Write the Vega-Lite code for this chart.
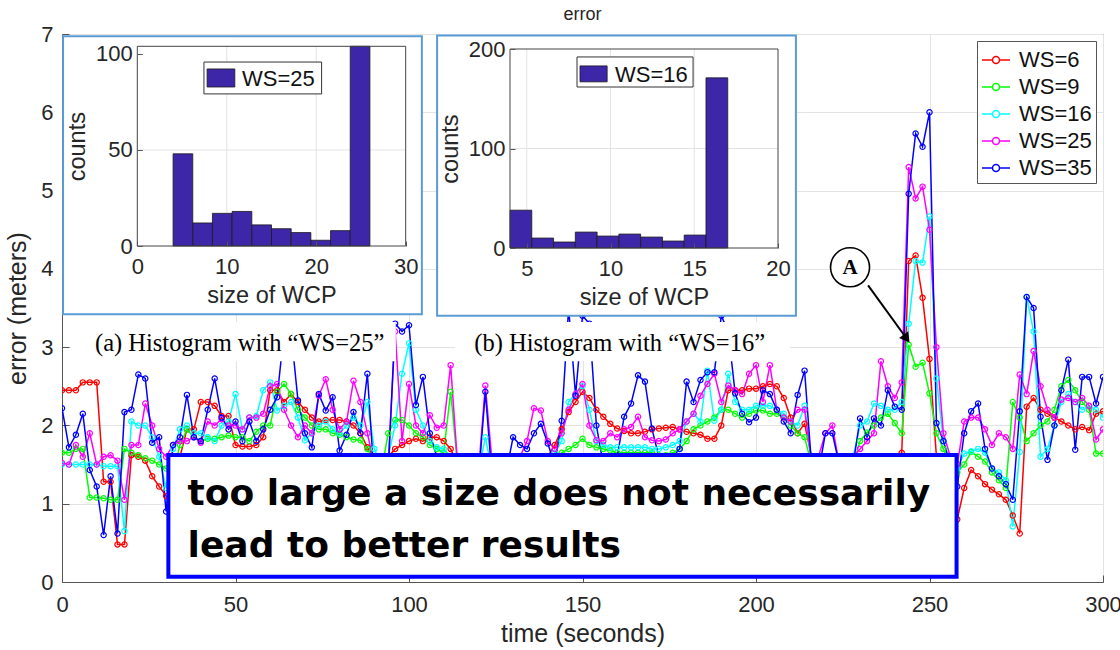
{
"$schema": "https://vega.github.io/schema/vega-lite/v6.json",
"width": 1041, "height": 548,
"autosize": "none",
"padding": {"left": 62, "top": 34, "right": 17, "bottom": 68},
"background": "white",
"title": {"text": "error", "fontSize": 18, "fontWeight": "normal", "font": "Liberation Sans", "color": "#262626", "offset": -1},
"config": {
  "view": {"stroke": "#555", "strokeWidth": 1},
  "axis": {"labelFont": "Liberation Sans", "titleFont": "Liberation Sans", "labelColor": "#262626", "titleColor": "#262626", "titleFontWeight": "normal", "domainColor": "#555", "tickColor": "#555", "gridColor": "#e3e3e3", "labelFontSize": 22, "titleFontSize": 25, "labelFlush": false, "labelOverlap": false}
},
"datasets": {
  "main": [
    {"t":0,"ws6":2.45,"ws9":1.65,"ws16":1.5,"ws25":1.52,"ws35":2.22},
    {"t":2,"ws6":2.45,"ws9":1.65,"ws16":1.5,"ws25":1.5,"ws35":1.72},
    {"t":4,"ws6":2.45,"ws9":1.7,"ws16":1.5,"ws25":1.75,"ws35":1.88},
    {"t":6,"ws6":2.55,"ws9":1.7,"ws16":1.5,"ws25":1.6,"ws35":2.15},
    {"t":8,"ws6":2.55,"ws9":1.08,"ws16":1.5,"ws25":1.9,"ws35":1.43},
    {"t":10,"ws6":2.55,"ws9":1.08,"ws16":1.5,"ws25":1.5,"ws35":1.22},
    {"t":12,"ws6":1.28,"ws9":1.07,"ws16":1.48,"ws25":1.6,"ws35":0.6},
    {"t":14,"ws6":1.28,"ws9":1.05,"ws16":1.48,"ws25":1.62,"ws35":1.35},
    {"t":16,"ws6":0.48,"ws9":1.05,"ws16":1.48,"ws25":1.55,"ws35":0.62},
    {"t":18,"ws6":0.48,"ws9":1.7,"ws16":0.65,"ws25":1.05,"ws35":2.17},
    {"t":20,"ws6":1.62,"ws9":1.65,"ws16":2.05,"ws25":1.75,"ws35":2.2},
    {"t":22,"ws6":1.6,"ws9":1.62,"ws16":2.0,"ws25":1.75,"ws35":2.65},
    {"t":24,"ws6":1.55,"ws9":1.58,"ws16":2.0,"ws25":2.28,"ws35":2.6},
    {"t":26,"ws6":1.35,"ws9":1.55,"ws16":1.85,"ws25":2.0,"ws35":1.78},
    {"t":28,"ws6":1.22,"ws9":1.5,"ws16":1.6,"ws25":1.7,"ws35":1.85},
    {"t":30,"ws6":1.1,"ws9":1.45,"ws16":1.2,"ws25":1.6,"ws35":0.9},
    {"t":32,"ws6":1.0,"ws9":1.4,"ws16":1.7,"ws25":1.75,"ws35":1.75},
    {"t":34,"ws6":1.6,"ws9":1.75,"ws16":1.95,"ws25":1.8,"ws35":1.85},
    {"t":36,"ws6":1.95,"ws9":1.95,"ws16":2.0,"ws25":1.8,"ws35":2.39},
    {"t":38,"ws6":1.95,"ws9":1.85,"ws16":1.9,"ws25":1.85,"ws35":1.85},
    {"t":40,"ws6":2.3,"ws9":1.8,"ws16":1.9,"ws25":1.78,"ws35":1.8},
    {"t":42,"ws6":2.3,"ws9":1.83,"ws16":1.85,"ws25":2.05,"ws35":2.2},
    {"t":44,"ws6":2.25,"ws9":1.83,"ws16":1.8,"ws25":2.0,"ws35":2.6},
    {"t":46,"ws6":2.12,"ws9":1.85,"ws16":2.0,"ws25":2.08,"ws35":2.1},
    {"t":48,"ws6":2.12,"ws9":1.87,"ws16":2.05,"ws25":2.0,"ws35":1.95},
    {"t":50,"ws6":1.75,"ws9":1.85,"ws16":2.4,"ws25":2.0,"ws35":2.05},
    {"t":52,"ws6":1.73,"ws9":1.85,"ws16":1.95,"ws25":1.95,"ws35":1.8},
    {"t":54,"ws6":1.73,"ws9":1.8,"ws16":2.1,"ws25":2.1,"ws35":2.05},
    {"t":56,"ws6":1.75,"ws9":1.92,"ws16":2.12,"ws25":2.1,"ws35":1.8},
    {"t":58,"ws6":1.85,"ws9":2.0,"ws16":2.45,"ws25":2.15,"ws35":1.95},
    {"t":60,"ws6":2.45,"ws9":2.0,"ws16":2.55,"ws25":2.5,"ws35":2.2},
    {"t":62,"ws6":2.45,"ws9":2.43,"ws16":2.19,"ws25":2.53,"ws35":2.36},
    {"t":64,"ws6":2.3,"ws9":2.53,"ws16":2.25,"ws25":2.2,"ws35":3.2},
    {"t":66,"ws6":2.4,"ws9":2.4,"ws16":2.3,"ws25":2.0,"ws35":3.2},
    {"t":68,"ws6":2.3,"ws9":2.2,"ws16":2.1,"ws25":1.85,"ws35":2.32},
    {"t":70,"ws6":2.2,"ws9":2.1,"ws16":1.81,"ws25":2.0,"ws35":1.9},
    {"t":72,"ws6":2.1,"ws9":2.0,"ws16":1.9,"ws25":1.9,"ws35":1.72},
    {"t":74,"ws6":2.05,"ws9":1.95,"ws16":2.0,"ws25":2.38,"ws35":2.4},
    {"t":76,"ws6":2.07,"ws9":1.95,"ws16":2.05,"ws25":2.59,"ws35":2.19},
    {"t":78,"ws6":2.07,"ws9":1.9,"ws16":1.95,"ws25":2.2,"ws35":2.36},
    {"t":80,"ws6":2.07,"ws9":1.88,"ws16":1.9,"ws25":1.95,"ws35":1.68},
    {"t":82,"ws6":2.05,"ws9":1.85,"ws16":2.0,"ws25":2.05,"ws35":1.88},
    {"t":84,"ws6":2.0,"ws9":1.82,"ws16":2.1,"ws25":2.57,"ws35":2.17},
    {"t":86,"ws6":1.9,"ws9":1.81,"ws16":2.0,"ws25":2.3,"ws35":1.9},
    {"t":88,"ws6":1.72,"ws9":1.7,"ws16":2.3,"ws25":1.9,"ws35":2.66},
    {"t":90,"ws6":1.6,"ws9":1.55,"ws16":1.7,"ws25":1.5,"ws35":1.3},
    {"t":92,"ws6":1.5,"ws9":1.4,"ws16":1.5,"ws25":1.4,"ws35":1.2},
    {"t":94,"ws6":1.6,"ws9":1.9,"ws16":1.6,"ws25":1.5,"ws35":1.4},
    {"t":96,"ws6":1.7,"ws9":2.07,"ws16":2.0,"ws25":3.2,"ws35":3.3},
    {"t":98,"ws6":1.75,"ws9":2.07,"ws16":2.66,"ws25":1.8,"ws35":3.2},
    {"t":100,"ws6":1.8,"ws9":2.0,"ws16":3.05,"ws25":2.53,"ws35":3.28},
    {"t":102,"ws6":1.83,"ws9":1.9,"ws16":2.2,"ws25":2.0,"ws35":2.26},
    {"t":104,"ws6":1.8,"ws9":1.85,"ws16":2.0,"ws25":1.9,"ws35":2.62},
    {"t":106,"ws6":1.85,"ws9":1.75,"ws16":1.8,"ws25":2.13,"ws35":1.9},
    {"t":108,"ws6":1.85,"ws9":1.7,"ws16":1.72,"ws25":1.97,"ws35":1.6},
    {"t":110,"ws6":1.8,"ws9":1.65,"ws16":1.7,"ws25":2.0,"ws35":1.5},
    {"t":112,"ws6":1.7,"ws9":2.43,"ws16":1.6,"ws25":2.77,"ws35":1.4},
    {"t":114,"ws6":1.5,"ws9":1.5,"ws16":1.4,"ws25":1.5,"ws35":1.3},
    {"t":116,"ws6":1.4,"ws9":1.4,"ws16":1.3,"ws25":1.4,"ws35":1.2},
    {"t":118,"ws6":1.3,"ws9":1.3,"ws16":1.3,"ws25":1.3,"ws35":1.2},
    {"t":120,"ws6":1.3,"ws9":1.3,"ws16":1.4,"ws25":1.4,"ws35":1.3},
    {"t":122,"ws6":1.35,"ws9":1.3,"ws16":1.85,"ws25":2.51,"ws35":2.43},
    {"t":124,"ws6":1.35,"ws9":1.3,"ws16":1.4,"ws25":1.5,"ws35":1.3},
    {"t":126,"ws6":1.3,"ws9":1.25,"ws16":1.3,"ws25":1.4,"ws35":1.2},
    {"t":128,"ws6":1.3,"ws9":1.25,"ws16":1.3,"ws25":1.45,"ws35":1.4},
    {"t":130,"ws6":1.35,"ws9":1.3,"ws16":1.4,"ws25":1.5,"ws35":1.85},
    {"t":132,"ws6":1.4,"ws9":1.35,"ws16":1.45,"ws25":1.6,"ws35":1.75},
    {"t":134,"ws6":1.45,"ws9":1.4,"ws16":1.5,"ws25":1.8,"ws35":1.7},
    {"t":136,"ws6":1.5,"ws9":1.45,"ws16":1.55,"ws25":2.22,"ws35":1.9},
    {"t":138,"ws6":1.55,"ws9":1.5,"ws16":1.6,"ws25":2.19,"ws35":2.02},
    {"t":140,"ws6":1.6,"ws9":1.55,"ws16":1.6,"ws25":1.8,"ws35":1.77},
    {"t":142,"ws6":1.75,"ws9":1.6,"ws16":1.65,"ws25":1.7,"ws35":1.5},
    {"t":144,"ws6":1.95,"ws9":1.65,"ws16":1.8,"ws25":1.9,"ws35":2.06},
    {"t":146,"ws6":2.17,"ws9":1.7,"ws16":2.3,"ws25":2.2,"ws35":3.5},
    {"t":148,"ws6":2.3,"ws9":1.75,"ws16":2.4,"ws25":2.4,"ws35":2.38},
    {"t":150,"ws6":2.43,"ws9":1.83,"ws16":2.5,"ws25":2.53,"ws35":3.4},
    {"t":152,"ws6":2.35,"ws9":1.75,"ws16":2.2,"ws25":2.0,"ws35":3.3},
    {"t":154,"ws6":2.2,"ws9":1.72,"ws16":1.8,"ws25":1.81,"ws35":2.0},
    {"t":156,"ws6":2.11,"ws9":1.7,"ws16":1.75,"ws25":1.8,"ws35":1.5},
    {"t":158,"ws6":2.02,"ws9":1.68,"ws16":1.72,"ws25":1.9,"ws35":1.4},
    {"t":160,"ws6":1.96,"ws9":1.65,"ws16":1.72,"ws25":1.85,"ws35":1.6},
    {"t":162,"ws6":1.93,"ws9":1.65,"ws16":1.72,"ws25":1.95,"ws35":2.11},
    {"t":164,"ws6":1.9,"ws9":1.65,"ws16":1.72,"ws25":1.98,"ws35":2.28},
    {"t":166,"ws6":1.9,"ws9":1.65,"ws16":1.72,"ws25":2.11,"ws35":2.64},
    {"t":168,"ws6":1.92,"ws9":1.65,"ws16":1.72,"ws25":1.85,"ws35":2.56},
    {"t":170,"ws6":1.95,"ws9":1.65,"ws16":1.7,"ws25":1.81,"ws35":1.96},
    {"t":172,"ws6":1.96,"ws9":1.62,"ws16":1.7,"ws25":1.8,"ws35":1.6},
    {"t":174,"ws6":1.97,"ws9":1.62,"ws16":1.72,"ws25":1.82,"ws35":1.5},
    {"t":176,"ws6":1.98,"ws9":1.65,"ws16":1.75,"ws25":1.9,"ws35":1.6},
    {"t":178,"ws6":1.95,"ws9":1.7,"ws16":1.8,"ws25":1.95,"ws35":1.7},
    {"t":180,"ws6":1.92,"ws9":1.8,"ws16":2.05,"ws25":2.05,"ws35":2.56},
    {"t":182,"ws6":1.9,"ws9":1.95,"ws16":2.15,"ws25":2.15,"ws35":2.3},
    {"t":184,"ws6":1.88,"ws9":2.0,"ws16":2.05,"ws25":2.38,"ws35":2.58},
    {"t":186,"ws6":1.83,"ws9":2.05,"ws16":2.7,"ws25":2.53,"ws35":2.68},
    {"t":188,"ws6":1.83,"ws9":2.1,"ws16":2.06,"ws25":2.66,"ws35":2.68},
    {"t":190,"ws6":2.0,"ws9":2.2,"ws16":2.2,"ws25":2.3,"ws35":3.4},
    {"t":192,"ws6":2.45,"ws9":2.2,"ws16":2.66,"ws25":2.51,"ws35":3.2},
    {"t":194,"ws6":2.45,"ws9":2.15,"ws16":2.3,"ws25":2.45,"ws35":2.41},
    {"t":196,"ws6":2.45,"ws9":2.1,"ws16":2.2,"ws25":2.4,"ws35":2.15},
    {"t":198,"ws6":2.47,"ws9":2.15,"ws16":2.2,"ws25":2.66,"ws35":2.04},
    {"t":200,"ws6":2.47,"ws9":2.19,"ws16":2.25,"ws25":2.77,"ws35":2.1},
    {"t":202,"ws6":2.5,"ws9":2.19,"ws16":2.25,"ws25":2.3,"ws35":2.45},
    {"t":204,"ws6":2.53,"ws9":2.15,"ws16":2.25,"ws25":2.77,"ws35":2.4},
    {"t":206,"ws6":2.5,"ws9":2.15,"ws16":2.2,"ws25":2.2,"ws35":2.2},
    {"t":208,"ws6":2.35,"ws9":2.1,"ws16":2.15,"ws25":2.1,"ws35":2.05},
    {"t":210,"ws6":2.1,"ws9":2.0,"ws16":2.05,"ws25":2.05,"ws35":1.9},
    {"t":212,"ws6":1.9,"ws9":1.9,"ws16":2.0,"ws25":2.2,"ws35":2.39},
    {"t":214,"ws6":2.02,"ws9":1.85,"ws16":2.25,"ws25":2.2,"ws35":2.7},
    {"t":216,"ws6":1.6,"ws9":1.5,"ws16":1.5,"ws25":1.55,"ws35":1.5},
    {"t":218,"ws6":1.4,"ws9":1.4,"ws16":1.4,"ws25":1.6,"ws35":1.4},
    {"t":220,"ws6":1.4,"ws9":1.4,"ws16":1.4,"ws25":1.9,"ws35":1.9},
    {"t":222,"ws6":1.4,"ws9":1.35,"ws16":1.4,"ws25":2.0,"ws35":1.9},
    {"t":224,"ws6":1.45,"ws9":1.4,"ws16":1.45,"ws25":1.5,"ws35":1.5},
    {"t":226,"ws6":1.45,"ws9":1.45,"ws16":1.5,"ws25":1.5,"ws35":1.45},
    {"t":228,"ws6":1.5,"ws9":1.5,"ws16":1.6,"ws25":1.6,"ws35":1.5},
    {"t":230,"ws6":1.5,"ws9":1.8,"ws16":2.0,"ws25":1.7,"ws35":2.09},
    {"t":232,"ws6":1.55,"ws9":1.91,"ws16":2.05,"ws25":1.8,"ws35":1.85},
    {"t":234,"ws6":1.55,"ws9":2.0,"ws16":2.28,"ws25":1.9,"ws35":2.09},
    {"t":236,"ws6":1.55,"ws9":2.1,"ws16":2.25,"ws25":2.82,"ws35":2.0},
    {"t":238,"ws6":1.55,"ws9":2.15,"ws16":2.2,"ws25":2.5,"ws35":2.45},
    {"t":240,"ws6":1.6,"ws9":2.03,"ws16":2.2,"ws25":2.35,"ws35":2.24},
    {"t":242,"ws6":1.65,"ws9":1.9,"ws16":2.3,"ws25":2.55,"ws35":2.2},
    {"t":244,"ws6":4.1,"ws9":3.03,"ws16":3.3,"ws25":5.3,"ws35":4.96},
    {"t":246,"ws6":4.17,"ws9":2.75,"ws16":4.1,"ws25":4.9,"ws35":5.73},
    {"t":248,"ws6":3.63,"ws9":2.8,"ws16":4.08,"ws25":5.05,"ws35":5.56},
    {"t":250,"ws6":2.85,"ws9":2.41,"ws16":4.67,"ws25":4.5,"ws35":6.0},
    {"t":252,"ws6":1.6,"ws9":1.9,"ws16":2.6,"ws25":3.0,"ws35":2.03},
    {"t":254,"ws6":1.5,"ws9":1.7,"ws16":1.8,"ws25":1.9,"ws35":1.8},
    {"t":256,"ws6":1.3,"ws9":1.5,"ws16":1.5,"ws25":1.6,"ws35":1.5},
    {"t":258,"ws6":0.8,"ws9":1.4,"ws16":1.45,"ws25":1.5,"ws35":1.22},
    {"t":260,"ws6":1.2,"ws9":1.5,"ws16":1.64,"ws25":2.05,"ws35":1.9},
    {"t":262,"ws6":1.43,"ws9":1.66,"ws16":1.67,"ws25":2.1,"ws35":2.18},
    {"t":264,"ws6":1.35,"ws9":1.6,"ws16":1.7,"ws25":2.1,"ws35":2.28},
    {"t":266,"ws6":1.25,"ws9":1.54,"ws16":1.65,"ws25":1.95,"ws35":1.7},
    {"t":268,"ws6":1.18,"ws9":1.4,"ws16":1.45,"ws25":1.75,"ws35":1.45},
    {"t":270,"ws6":1.12,"ws9":1.3,"ws16":1.4,"ws25":1.9,"ws35":1.35},
    {"t":272,"ws6":1.05,"ws9":1.2,"ws16":1.3,"ws25":1.85,"ws35":1.25},
    {"t":274,"ws6":0.85,"ws9":2.3,"ws16":0.71,"ws25":1.7,"ws35":1.05},
    {"t":276,"ws6":0.62,"ws9":2.1,"ws16":1.66,"ws25":2.65,"ws35":2.18},
    {"t":278,"ws6":2.24,"ws9":1.8,"ws16":3.64,"ws25":2.4,"ws35":3.64},
    {"t":280,"ws6":2.35,"ws9":1.9,"ws16":3.2,"ws25":2.95,"ws35":3.5},
    {"t":282,"ws6":2.2,"ws9":2.0,"ws16":1.6,"ws25":2.5,"ws35":2.11},
    {"t":284,"ws6":2.15,"ws9":2.05,"ws16":1.7,"ws25":2.2,"ws35":1.56},
    {"t":286,"ws6":2.1,"ws9":2.2,"ws16":2.0,"ws25":2.1,"ws35":2.0},
    {"t":288,"ws6":2.05,"ws9":2.5,"ws16":2.3,"ws25":2.33,"ws35":2.45},
    {"t":290,"ws6":2.0,"ws9":2.58,"ws16":2.4,"ws25":2.35,"ws35":2.84},
    {"t":292,"ws6":1.95,"ws9":2.45,"ws16":2.3,"ws25":2.3,"ws35":1.69},
    {"t":294,"ws6":1.98,"ws9":2.3,"ws16":2.2,"ws25":2.35,"ws35":2.62},
    {"t":296,"ws6":1.94,"ws9":2.2,"ws16":2.25,"ws25":2.25,"ws35":2.62},
    {"t":298,"ws6":2.15,"ws9":1.64,"ws16":2.2,"ws25":1.82,"ws35":2.28},
    {"t":300,"ws6":2.18,"ws9":1.64,"ws16":2.1,"ws25":1.95,"ws35":2.62}
  ],
  "hist1": [
    {"lo":4,"hi":6.2,"n":48},{"lo":6.2,"hi":8.4,"n":12},{"lo":8.4,"hi":10.6,"n":17},{"lo":10.6,"hi":12.8,"n":18},{"lo":12.8,"hi":15,"n":11},
    {"lo":15,"hi":17.2,"n":9},{"lo":17.2,"hi":19.4,"n":7},{"lo":19.4,"hi":21.6,"n":3},{"lo":21.6,"hi":23.8,"n":8},{"lo":23.8,"hi":26,"n":106}
  ],
  "hist2": [
    {"lo":4,"hi":5.3,"n":38},{"lo":5.3,"hi":6.6,"n":10},{"lo":6.6,"hi":7.9,"n":6},{"lo":7.9,"hi":9.2,"n":16},{"lo":9.2,"hi":10.5,"n":12},
    {"lo":10.5,"hi":11.8,"n":14},{"lo":11.8,"hi":13.1,"n":11},{"lo":13.1,"hi":14.4,"n":7},{"lo":14.4,"hi":15.7,"n":13},{"lo":15.7,"hi":17,"n":171}
  ]
},
"layer": [
  {
    "data": {"name": "main"},
    "transform": [{"fold": ["ws6", "ws9", "ws16", "ws25", "ws35"], "as": ["series", "err"]}],
    "mark": {"type": "line", "strokeWidth": 1.5, "clip": true, "point": {"filled": false, "size": 28, "strokeWidth": 1.2}},
    "encoding": {
      "x": {"field": "t", "type": "quantitative", "scale": {"domain": [0, 300], "nice": false, "zero": false},
            "axis": {"values": [0, 50, 100, 150, 200, 250, 300], "title": "time (seconds)", "grid": true, "tickSize": -7, "labelPadding": 19, "titlePadding": 6}},
      "y": {"field": "err", "type": "quantitative", "scale": {"domain": [0, 7], "nice": false, "zero": false},
            "axis": {"values": [0, 1, 2, 3, 4, 5, 6, 7], "title": "error (meters)", "grid": true, "tickSize": -7, "labelPadding": 16, "titlePadding": 10}},
      "color": {"field": "series", "type": "nominal",
                "scale": {"domain": ["ws6", "ws9", "ws16", "ws25", "ws35"], "range": ["#FF0000", "#00FF00", "#00FFFF", "#FF00FF", "#0000FF"]},
                "legend": {"title": null, "orient": "top-right", "offset": 7, "labelExpr": "'WS=' + slice(datum.label, 2)",
                           "symbolType": "M-1,0H-0.25M0.25,0H1M-0.25,0A0.25,0.25 0 1,1 0.25,0A0.25,0.25 0 1,1 -0.25,0",
                           "symbolSize": 784, "symbolStrokeWidth": 1.5, "symbolFillColor": "transparent",
                           "labelFontSize": 22, "labelFont": "Liberation Sans", "labelColor": "#111",
                           "fillColor": "white", "strokeColor": "#555", "padding": 4, "rowPadding": 1, "labelOffset": 8}}
    }
  },
  {
    "data": {"values": [{"x": 30.65, "x2": 257.8, "y": 0.068, "y2": 1.622}]},
    "mark": {"type": "rect", "fill": "white", "stroke": "#0000FF", "strokeWidth": 4},
    "encoding": {"x": {"field": "x", "type": "quantitative", "scale": {"domain": [0, 300], "nice": false, "zero": false}, "axis": null}, "x2": {"field": "x2"},
                 "y": {"field": "y", "type": "quantitative", "scale": {"domain": [0, 7], "nice": false, "zero": false}, "axis": null}, "y2": {"field": "y2"}}
  },
  {
    "data": {"values": [{"x": 36.2, "y": 0.983, "text": "too large a size does not necessarily"}, {"x": 36.2, "y": 0.323, "text": "lead to better results"}]},
    "mark": {"type": "text", "font": "DejaVu Sans", "fontWeight": "bold", "fontSize": 36, "align": "left", "baseline": "alphabetic", "color": "black"},
    "encoding": {"x": {"field": "x", "type": "quantitative", "scale": {"domain": [0, 300], "nice": false, "zero": false}, "axis": null},
                 "y": {"field": "y", "type": "quantitative", "scale": {"domain": [0, 7], "nice": false, "zero": false}, "axis": null}, "text": {"field": "text"}}
  },
  {
    "data": {"values": [{"x": 0.3, "x2": 103.7, "y": 3.42, "y2": 6.97}, {"x": 108.1, "x2": 211.5, "y": 3.40, "y2": 6.98}]},
    "mark": {"type": "rect", "fill": "white", "stroke": "#5B9BD5", "strokeWidth": 2},
    "encoding": {"x": {"field": "x", "type": "quantitative", "scale": {"domain": [0, 300], "nice": false, "zero": false}, "axis": null}, "x2": {"field": "x2"},
                 "y": {"field": "y", "type": "quantitative", "scale": {"domain": [0, 7], "nice": false, "zero": false}, "axis": null}, "y2": {"field": "y2"}}
  },
  {
    "data": {"values": [{"x": 2.5, "x2": 96.2, "y": 2.82, "y2": 3.32}, {"x": 113.3, "x2": 209.8, "y": 2.82, "y2": 3.32}]},
    "mark": {"type": "rect", "fill": "white"},
    "encoding": {"x": {"field": "x", "type": "quantitative", "scale": {"domain": [0, 300], "nice": false, "zero": false}, "axis": null}, "x2": {"field": "x2"},
                 "y": {"field": "y", "type": "quantitative", "scale": {"domain": [0, 7], "nice": false, "zero": false}, "axis": null}, "y2": {"field": "y2"}}
  },
  {
    "data": {"values": [{"x": 51.2, "y": 2.95, "text": "(a) Histogram with “WS=25”"}, {"x": 160.7, "y": 2.95, "text": "(b) Histogram with “WS=16”"}]},
    "mark": {"type": "text", "font": "Liberation Serif", "fontSize": 24.5, "align": "center", "baseline": "alphabetic", "color": "black"},
    "encoding": {"x": {"field": "x", "type": "quantitative", "scale": {"domain": [0, 300], "nice": false, "zero": false}, "axis": null},
                 "y": {"field": "y", "type": "quantitative", "scale": {"domain": [0, 7], "nice": false, "zero": false}, "axis": null}, "text": {"field": "text"}}
  },
  {
    "data": {"values": [{"x": 232.3, "y": 3.79, "x2": 243.4, "y2": 3.11}]},
    "mark": {"type": "rule", "color": "black", "strokeWidth": 2},
    "encoding": {"x": {"field": "x", "type": "quantitative", "scale": {"domain": [0, 300], "nice": false, "zero": false}, "axis": null}, "x2": {"field": "x2"},
                 "y": {"field": "y", "type": "quantitative", "scale": {"domain": [0, 7], "nice": false, "zero": false}, "axis": null}, "y2": {"field": "y2"}}
  },
  {
    "data": {"values": [{"x": 243.4, "y": 3.11}]},
    "mark": {"type": "point", "shape": "triangle-up", "size": 130, "filled": true, "color": "black", "angle": 144, "opacity": 1},
    "encoding": {"x": {"field": "x", "type": "quantitative", "scale": {"domain": [0, 300], "nice": false, "zero": false}, "axis": null},
                 "y": {"field": "y", "type": "quantitative", "scale": {"domain": [0, 7], "nice": false, "zero": false}, "axis": null}}
  },
  {
    "data": {"values": [{"x": 227.1, "y": 4.02}]},
    "mark": {"type": "point", "shape": "circle", "size": 1520, "filled": false, "stroke": "black", "strokeWidth": 1.6, "fill": "white", "fillOpacity": 1, "opacity": 1},
    "encoding": {"x": {"field": "x", "type": "quantitative", "scale": {"domain": [0, 300], "nice": false, "zero": false}, "axis": null},
                 "y": {"field": "y", "type": "quantitative", "scale": {"domain": [0, 7], "nice": false, "zero": false}, "axis": null}}
  },
  {
    "data": {"values": [{"x": 227.1, "y": 4.02, "label": "A"}]},
    "mark": {"type": "text", "font": "Liberation Serif", "fontWeight": "bold", "fontSize": 21, "align": "center", "baseline": "middle", "color": "black", "dy": 1},
    "encoding": {"x": {"field": "x", "type": "quantitative", "scale": {"domain": [0, 300], "nice": false, "zero": false}, "axis": null},
                 "y": {"field": "y", "type": "quantitative", "scale": {"domain": [0, 7], "nice": false, "zero": false}, "axis": null}, "text": {"field": "label"}}
  },
  {
    "data": {"values": [{"g": 10}, {"g": 20}]},
    "mark": {"type": "rule", "color": "#e3e3e3", "strokeWidth": 1},
    "encoding": {"x": {"field": "g", "type": "quantitative", "scale": {"domain": [0, 30], "range": [75.3, 343.7], "nice": false, "zero": false}, "axis": null},
                 "y": {"datum": 0, "type": "quantitative", "scale": {"domain": [0, 104], "range": [212, 12.3], "nice": false, "zero": false}, "axis": null},
                 "y2": {"datum": 104}}
  },
  {
    "data": {"values": [{"g": 50}]},
    "mark": {"type": "rule", "color": "#e3e3e3", "strokeWidth": 1},
    "encoding": {"y": {"field": "g", "type": "quantitative", "scale": {"domain": [0, 104], "range": [212, 12.3], "nice": false, "zero": false}, "axis": null},
                 "x": {"datum": 0, "type": "quantitative", "scale": {"domain": [0, 30], "range": [75.3, 343.7], "nice": false, "zero": false}, "axis": null}, "x2": {"datum": 30}}
  },
  {
    "data": {"name": "hist1"},
    "mark": {"type": "rect", "fill": "#3E26A8", "stroke": "#1a1a1a", "strokeWidth": 0.8},
    "encoding": {
      "x": {"field": "lo", "type": "quantitative", "scale": {"domain": [0, 30], "range": [75.3, 343.7], "nice": false, "zero": false},
            "axis": {"orient": "bottom", "offset": -336, "values": [0, 10, 20, 30], "title": "size of WCP", "zindex": 1, "grid": false, "domain": false, "tickSize": -5, "labelPadding": 15, "titlePadding": 6, "titleFontSize": 23.5}},
      "x2": {"field": "hi"},
      "y": {"field": "n", "type": "quantitative", "scale": {"domain": [0, 104], "range": [212, 12.3], "nice": false, "zero": false, "clamp": true},
            "axis": {"orient": "left", "offset": -75.3, "values": [0, 50, 100], "title": "counts", "zindex": 1, "grid": false, "domain": false, "tickSize": -5, "labelPadding": 10, "titlePadding": 6, "titleFontSize": 23.5}},
      "y2": {"datum": 0}
    }
  },
  {
    "data": {"values": [{"k": 1}]},
    "mark": {"type": "rect", "fillOpacity": 0, "stroke": "#444", "strokeWidth": 1},
    "encoding": {"x": {"datum": 0, "type": "quantitative", "scale": {"domain": [0, 30], "range": [75.3, 343.7], "nice": false, "zero": false}, "axis": null}, "x2": {"datum": 30},
                 "y": {"datum": 0, "type": "quantitative", "scale": {"domain": [0, 104], "range": [212, 12.3], "nice": false, "zero": false}, "axis": null}, "y2": {"datum": 104}}
  },
  {
    "data": {"values": [{"k": 1}]},
    "mark": {"type": "rect", "fill": "white", "stroke": "#333", "strokeWidth": 1},
    "encoding": {"x": {"datum": 7.45, "type": "quantitative", "scale": {"domain": [0, 30], "range": [75.3, 343.7], "nice": false, "zero": false}, "axis": null}, "x2": {"datum": 20.6},
                 "y": {"datum": 79.2, "type": "quantitative", "scale": {"domain": [0, 104], "range": [212, 12.3], "nice": false, "zero": false}, "axis": null}, "y2": {"datum": 95.8}}
  },
  {
    "data": {"values": [{"k": 1}]},
    "mark": {"type": "rect", "fill": "#3E26A8", "stroke": "#1a1a1a", "strokeWidth": 0.8},
    "encoding": {"x": {"datum": 7.8, "type": "quantitative", "scale": {"domain": [0, 30], "range": [75.3, 343.7], "nice": false, "zero": false}, "axis": null}, "x2": {"datum": 10.9},
                 "y": {"datum": 82.8, "type": "quantitative", "scale": {"domain": [0, 104], "range": [212, 12.3], "nice": false, "zero": false}, "axis": null}, "y2": {"datum": 92.2}}
  },
  {
    "data": {"values": [{"x": 11.7, "y": 87.5, "label": "WS=25"}]},
    "mark": {"type": "text", "font": "Liberation Sans", "fontSize": 22, "align": "left", "baseline": "middle", "color": "#111", "dy": 1},
    "encoding": {"x": {"field": "x", "type": "quantitative", "scale": {"domain": [0, 30], "range": [75.3, 343.7], "nice": false, "zero": false}, "axis": null},
                 "y": {"field": "y", "type": "quantitative", "scale": {"domain": [0, 104], "range": [212, 12.3], "nice": false, "zero": false}, "axis": null}, "text": {"field": "label"}}
  },
  {
    "data": {"values": [{"g": 5}, {"g": 10}, {"g": 15}]},
    "mark": {"type": "rule", "color": "#e3e3e3", "strokeWidth": 1},
    "encoding": {"x": {"field": "g", "type": "quantitative", "scale": {"domain": [4, 20], "range": [448, 716], "nice": false, "zero": false}, "axis": null},
                 "y": {"datum": 0, "type": "quantitative", "scale": {"domain": [0, 200], "range": [214, 15], "nice": false, "zero": false}, "axis": null},
                 "y2": {"datum": 200}}
  },
  {
    "data": {"values": [{"g": 100}]},
    "mark": {"type": "rule", "color": "#e3e3e3", "strokeWidth": 1},
    "encoding": {"y": {"field": "g", "type": "quantitative", "scale": {"domain": [0, 200], "range": [214, 15], "nice": false, "zero": false}, "axis": null},
                 "x": {"datum": 4, "type": "quantitative", "scale": {"domain": [4, 20], "range": [448, 716], "nice": false, "zero": false}, "axis": null}, "x2": {"datum": 20}}
  },
  {
    "data": {"name": "hist2"},
    "mark": {"type": "rect", "fill": "#3E26A8", "stroke": "#1a1a1a", "strokeWidth": 0.8},
    "encoding": {
      "x": {"field": "lo", "type": "quantitative", "scale": {"domain": [4, 20], "range": [448, 716], "nice": false, "zero": false},
            "axis": {"orient": "bottom", "offset": -334, "values": [5, 10, 15, 20], "title": "size of WCP", "zindex": 1, "grid": false, "domain": false, "tickSize": -5, "labelPadding": 15, "titlePadding": 6, "titleFontSize": 23.5}},
      "x2": {"field": "hi"},
      "y": {"field": "n", "type": "quantitative", "scale": {"domain": [0, 200], "range": [214, 15], "nice": false, "zero": false, "clamp": true},
            "axis": {"orient": "left", "offset": -448, "values": [0, 100, 200], "title": "counts", "zindex": 1, "grid": false, "domain": false, "tickSize": -5, "labelPadding": 10, "titlePadding": 6, "titleFontSize": 23.5}},
      "y2": {"datum": 0}
    }
  },
  {
    "data": {"values": [{"k": 1}]},
    "mark": {"type": "rect", "fillOpacity": 0, "stroke": "#444", "strokeWidth": 1},
    "encoding": {"x": {"datum": 4, "type": "quantitative", "scale": {"domain": [4, 20], "range": [448, 716], "nice": false, "zero": false}, "axis": null}, "x2": {"datum": 20},
                 "y": {"datum": 0, "type": "quantitative", "scale": {"domain": [0, 200], "range": [214, 15], "nice": false, "zero": false}, "axis": null}, "y2": {"datum": 200}}
  },
  {
    "data": {"values": [{"k": 1}]},
    "mark": {"type": "rect", "fill": "white", "stroke": "#333", "strokeWidth": 1},
    "encoding": {"x": {"datum": 8.0, "type": "quantitative", "scale": {"domain": [4, 20], "range": [448, 716], "nice": false, "zero": false}, "axis": null}, "x2": {"datum": 14.93},
                 "y": {"datum": 161.8, "type": "quantitative", "scale": {"domain": [0, 200], "range": [214, 15], "nice": false, "zero": false}, "axis": null}, "y2": {"datum": 192}}
  },
  {
    "data": {"values": [{"k": 1}]},
    "mark": {"type": "rect", "fill": "#3E26A8", "stroke": "#1a1a1a", "strokeWidth": 0.8},
    "encoding": {"x": {"datum": 8.18, "type": "quantitative", "scale": {"domain": [4, 20], "range": [448, 716], "nice": false, "zero": false}, "axis": null}, "x2": {"datum": 9.8},
                 "y": {"datum": 167, "type": "quantitative", "scale": {"domain": [0, 200], "range": [214, 15], "nice": false, "zero": false}, "axis": null}, "y2": {"datum": 183}}
  },
  {
    "data": {"values": [{"x": 10.27, "y": 175, "label": "WS=16"}]},
    "mark": {"type": "text", "font": "Liberation Sans", "fontSize": 22, "align": "left", "baseline": "middle", "color": "#111", "dy": 1},
    "encoding": {"x": {"field": "x", "type": "quantitative", "scale": {"domain": [4, 20], "range": [448, 716], "nice": false, "zero": false}, "axis": null},
                 "y": {"field": "y", "type": "quantitative", "scale": {"domain": [0, 200], "range": [214, 15], "nice": false, "zero": false}, "axis": null}, "text": {"field": "label"}}
  }
],
"resolve": {"scale": {"x": "independent", "y": "independent"}, "axis": {"x": "independent", "y": "independent"}}
}
